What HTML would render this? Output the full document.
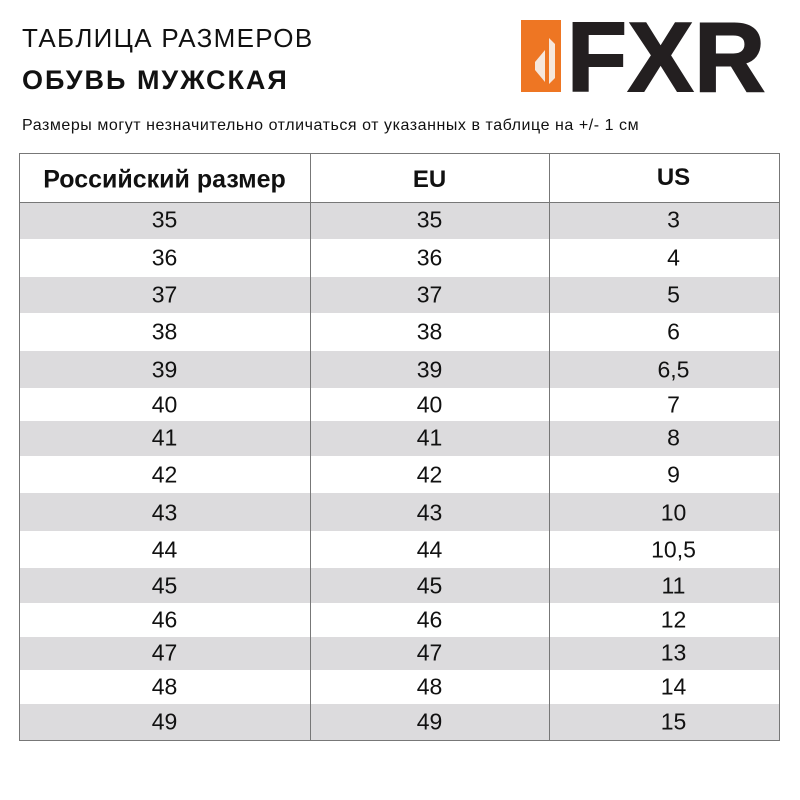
<!DOCTYPE html>
<html><head><meta charset="utf-8"><style>
body{margin:0;width:800px;height:800px;background:#fff;position:relative;font-family:"Liberation Sans","DejaVu Sans",sans-serif;color:#111;overflow:hidden}
.a{position:absolute;white-space:nowrap}
.r{position:absolute;left:19px;width:760px}
.g{background:#dcdbdd}
.c{position:absolute;font-size:23px;text-align:center;transform:translateY(-50%)}
.v{position:absolute;top:153px;height:587px;width:1px;background:#777}
</style></head><body>
<div class="a" style="left:22px;top:23px;font-size:26px;letter-spacing:1.3px">ТАБЛИЦА РАЗМЕРОВ</div>
<div class="a" style="left:22px;top:65px;font-size:27px;font-weight:bold;letter-spacing:2px">ОБУВЬ МУЖСКАЯ</div>
<div class="a" style="left:22px;top:117px;font-size:16px;letter-spacing:0.55px">Размеры могут незначительно отличаться от указанных в таблице на +/- 1 см</div>
<div class="a" style="left:521px;top:20px;width:40px;height:72px;background:#ee7623"></div>
<svg class="a" style="left:521px;top:20px" width="40" height="72"><path d="M14 42 L24 30 L24 62 L14 50 Z M28 18 L34 24 L34 58 L28 64 Z" fill="#f6e7dc"/></svg>
<div class="a" style="left:567px;top:5px;font-size:98px;font-weight:bold;color:#231f20;letter-spacing:1px;line-height:105px;-webkit-text-stroke:2px #231f20">FXR</div>

<div class="r g" style="top:202px;height:37px"></div>
<div class="r g" style="top:277px;height:36px"></div>
<div class="r g" style="top:351px;height:37px"></div>
<div class="r g" style="top:421px;height:35px"></div>
<div class="r g" style="top:493px;height:38px"></div>
<div class="r g" style="top:568px;height:35px"></div>
<div class="r g" style="top:637px;height:33px"></div>
<div class="r g" style="top:704px;height:36px"></div>
<div class="a" style="left:19px;top:153px;width:759px;height:586px;border:1px solid #777"></div>
<div class="a" style="left:19px;top:202px;width:760px;height:1px;background:#777"></div>
<div class="v" style="left:310px"></div>
<div class="v" style="left:549px"></div>

<div class="c" style="left:19px;width:291px;top:180px;font-weight:bold;font-size:25px">Российский размер</div>
<div class="c" style="left:310px;width:239px;top:180px;font-weight:bold;font-size:24px">EU</div>
<div class="c" style="left:549px;width:249px;top:178px;font-weight:bold;font-size:24px">US</div>

<div id="rows"></div>
<script>
var ys=[220,258,295,332,370,405,438,475,513,550,586,620,653,687,722];
var us=["3","4","5","6","6,5","7","8","9","10","10,5","11","12","13","14","15"];
var h="";
for(var i=0;i<15;i++){var n=35+i;
h+='<div class="c" style="left:19px;width:291px;top:'+ys[i]+'px">'+n+'</div>';
h+='<div class="c" style="left:310px;width:239px;top:'+ys[i]+'px">'+n+'</div>';
h+='<div class="c" style="left:549px;width:249px;top:'+ys[i]+'px">'+us[i]+'</div>';}
document.getElementById("rows").innerHTML=h;
</script>
</body></html>
